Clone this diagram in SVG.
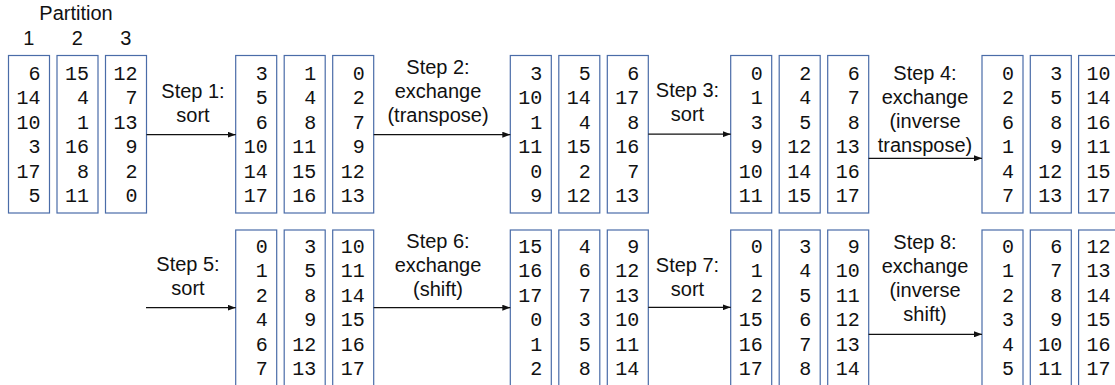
<svg xmlns="http://www.w3.org/2000/svg" width="1115" height="385" viewBox="0 0 1115 385">
  <style>
    .box { fill: #ffffff; stroke: #4a6ca8; stroke-width: 1.2; }
    .num { font-family: "Liberation Mono", "Courier New", monospace; font-size: 20px; fill: #111111; text-anchor: end; }
    .lbl { font-family: "Liberation Sans", Arial, Helvetica, sans-serif; font-size: 20px; fill: #111111; text-anchor: middle; }
    .edge { fill: none; stroke: #111111; stroke-width: 1.2; }
  </style>
  <defs>
    <marker id="arrow" viewBox="0 0 8 6" refX="8" refY="3" markerWidth="8" markerHeight="6" markerUnits="userSpaceOnUse" orient="auto">
      <path d="M0,0 L8,3 L0,6 Z" fill="#111111"/>
    </marker>
  </defs>
  <rect width="1115" height="385" fill="#ffffff"/>

  <!-- header -->
  <g id="header">
    <text class="lbl" x="76" y="20">Partition</text>
    <text class="lbl" x="28.8" y="45">1</text>
    <text class="lbl" x="77.3" y="45">2</text>
    <text class="lbl" x="125.8" y="45">3</text>
  </g>

  <!-- row 1: initial data -->
  <g id="initial">
    <rect class="box" x="8.5" y="55.5" width="41" height="157.5"/>
    <rect class="box" x="57" y="55.5" width="41" height="157.5"/>
    <rect class="box" x="105.5" y="55.5" width="41" height="157.5"/>
    <text class="num"><tspan x="40.5" y="80">6</tspan><tspan x="40.5" y="104.4">14</tspan><tspan x="40.5" y="128.8">10</tspan><tspan x="40.5" y="153.2">3</tspan><tspan x="40.5" y="177.6">17</tspan><tspan x="40.5" y="202">5</tspan></text>
    <text class="num"><tspan x="89" y="80">15</tspan><tspan x="89" y="104.4">4</tspan><tspan x="89" y="128.8">1</tspan><tspan x="89" y="153.2">16</tspan><tspan x="89" y="177.6">8</tspan><tspan x="89" y="202">11</tspan></text>
    <text class="num"><tspan x="137.5" y="80">12</tspan><tspan x="137.5" y="104.4">7</tspan><tspan x="137.5" y="128.8">13</tspan><tspan x="137.5" y="153.2">9</tspan><tspan x="137.5" y="177.6">2</tspan><tspan x="137.5" y="202">0</tspan></text>
  </g>

  <!-- row 1: after step 1 -->
  <g id="step1">
    <rect class="box" x="235.7" y="55.5" width="41" height="157.5"/>
    <rect class="box" x="284.2" y="55.5" width="41" height="157.5"/>
    <rect class="box" x="332.7" y="55.5" width="41" height="157.5"/>
    <text class="num"><tspan x="267.7" y="80">3</tspan><tspan x="267.7" y="104.4">5</tspan><tspan x="267.7" y="128.8">6</tspan><tspan x="267.7" y="153.2">10</tspan><tspan x="267.7" y="177.6">14</tspan><tspan x="267.7" y="202">17</tspan></text>
    <text class="num"><tspan x="316.2" y="80">1</tspan><tspan x="316.2" y="104.4">4</tspan><tspan x="316.2" y="128.8">8</tspan><tspan x="316.2" y="153.2">11</tspan><tspan x="316.2" y="177.6">15</tspan><tspan x="316.2" y="202">16</tspan></text>
    <text class="num"><tspan x="364.7" y="80">0</tspan><tspan x="364.7" y="104.4">2</tspan><tspan x="364.7" y="128.8">7</tspan><tspan x="364.7" y="153.2">9</tspan><tspan x="364.7" y="177.6">12</tspan><tspan x="364.7" y="202">13</tspan></text>
  </g>

  <!-- row 1: after step 2 -->
  <g id="step2">
    <rect class="box" x="510.3" y="55.5" width="41" height="157.5"/>
    <rect class="box" x="558.8" y="55.5" width="41" height="157.5"/>
    <rect class="box" x="607.3" y="55.5" width="41" height="157.5"/>
    <text class="num"><tspan x="542.3" y="80">3</tspan><tspan x="542.3" y="104.4">10</tspan><tspan x="542.3" y="128.8">1</tspan><tspan x="542.3" y="153.2">11</tspan><tspan x="542.3" y="177.6">0</tspan><tspan x="542.3" y="202">9</tspan></text>
    <text class="num"><tspan x="590.8" y="80">5</tspan><tspan x="590.8" y="104.4">14</tspan><tspan x="590.8" y="128.8">4</tspan><tspan x="590.8" y="153.2">15</tspan><tspan x="590.8" y="177.6">2</tspan><tspan x="590.8" y="202">12</tspan></text>
    <text class="num"><tspan x="639.3" y="80">6</tspan><tspan x="639.3" y="104.4">17</tspan><tspan x="639.3" y="128.8">8</tspan><tspan x="639.3" y="153.2">16</tspan><tspan x="639.3" y="177.6">7</tspan><tspan x="639.3" y="202">13</tspan></text>
  </g>

  <!-- row 1: after step 3 -->
  <g id="step3">
    <rect class="box" x="730.7" y="55.5" width="41" height="157.5"/>
    <rect class="box" x="779.2" y="55.5" width="41" height="157.5"/>
    <rect class="box" x="827.7" y="55.5" width="41" height="157.5"/>
    <text class="num"><tspan x="762.7" y="80">0</tspan><tspan x="762.7" y="104.4">1</tspan><tspan x="762.7" y="128.8">3</tspan><tspan x="762.7" y="153.2">9</tspan><tspan x="762.7" y="177.6">10</tspan><tspan x="762.7" y="202">11</tspan></text>
    <text class="num"><tspan x="811.2" y="80">2</tspan><tspan x="811.2" y="104.4">4</tspan><tspan x="811.2" y="128.8">5</tspan><tspan x="811.2" y="153.2">12</tspan><tspan x="811.2" y="177.6">14</tspan><tspan x="811.2" y="202">15</tspan></text>
    <text class="num"><tspan x="859.7" y="80">6</tspan><tspan x="859.7" y="104.4">7</tspan><tspan x="859.7" y="128.8">8</tspan><tspan x="859.7" y="153.2">13</tspan><tspan x="859.7" y="177.6">16</tspan><tspan x="859.7" y="202">17</tspan></text>
  </g>

  <!-- row 1: after step 4 -->
  <g id="step4">
    <rect class="box" x="982" y="55.5" width="41" height="157.5"/>
    <rect class="box" x="1030.3" y="55.5" width="41" height="157.5"/>
    <rect class="box" x="1078.6" y="55.5" width="41" height="157.5"/>
    <text class="num"><tspan x="1014" y="80">0</tspan><tspan x="1014" y="104.4">2</tspan><tspan x="1014" y="128.8">6</tspan><tspan x="1014" y="153.2">1</tspan><tspan x="1014" y="177.6">4</tspan><tspan x="1014" y="202">7</tspan></text>
    <text class="num"><tspan x="1062.3" y="80">3</tspan><tspan x="1062.3" y="104.4">5</tspan><tspan x="1062.3" y="128.8">8</tspan><tspan x="1062.3" y="153.2">9</tspan><tspan x="1062.3" y="177.6">12</tspan><tspan x="1062.3" y="202">13</tspan></text>
    <text class="num"><tspan x="1110.6" y="80">10</tspan><tspan x="1110.6" y="104.4">14</tspan><tspan x="1110.6" y="128.8">16</tspan><tspan x="1110.6" y="153.2">11</tspan><tspan x="1110.6" y="177.6">15</tspan><tspan x="1110.6" y="202">17</tspan></text>
  </g>

  <!-- row 2: after step 5 -->
  <g id="step5">
    <rect class="box" x="235.7" y="230" width="41" height="165"/>
    <rect class="box" x="284.2" y="230" width="41" height="165"/>
    <rect class="box" x="332.7" y="230" width="41" height="165"/>
    <text class="num"><tspan x="267.7" y="252.5">0</tspan><tspan x="267.7" y="277">1</tspan><tspan x="267.7" y="301.5">2</tspan><tspan x="267.7" y="326">4</tspan><tspan x="267.7" y="350.5">6</tspan><tspan x="267.7" y="375">7</tspan></text>
    <text class="num"><tspan x="316.2" y="252.5">3</tspan><tspan x="316.2" y="277">5</tspan><tspan x="316.2" y="301.5">8</tspan><tspan x="316.2" y="326">9</tspan><tspan x="316.2" y="350.5">12</tspan><tspan x="316.2" y="375">13</tspan></text>
    <text class="num"><tspan x="364.7" y="252.5">10</tspan><tspan x="364.7" y="277">11</tspan><tspan x="364.7" y="301.5">14</tspan><tspan x="364.7" y="326">15</tspan><tspan x="364.7" y="350.5">16</tspan><tspan x="364.7" y="375">17</tspan></text>
  </g>

  <!-- row 2: after step 6 -->
  <g id="step6">
    <rect class="box" x="510.3" y="230" width="41" height="165"/>
    <rect class="box" x="558.8" y="230" width="41" height="165"/>
    <rect class="box" x="607.3" y="230" width="41" height="165"/>
    <text class="num"><tspan x="542.3" y="252.5">15</tspan><tspan x="542.3" y="277">16</tspan><tspan x="542.3" y="301.5">17</tspan><tspan x="542.3" y="326">0</tspan><tspan x="542.3" y="350.5">1</tspan><tspan x="542.3" y="375">2</tspan></text>
    <text class="num"><tspan x="590.8" y="252.5">4</tspan><tspan x="590.8" y="277">6</tspan><tspan x="590.8" y="301.5">7</tspan><tspan x="590.8" y="326">3</tspan><tspan x="590.8" y="350.5">5</tspan><tspan x="590.8" y="375">8</tspan></text>
    <text class="num"><tspan x="639.3" y="252.5">9</tspan><tspan x="639.3" y="277">12</tspan><tspan x="639.3" y="301.5">13</tspan><tspan x="639.3" y="326">10</tspan><tspan x="639.3" y="350.5">11</tspan><tspan x="639.3" y="375">14</tspan></text>
  </g>

  <!-- row 2: after step 7 -->
  <g id="step7">
    <rect class="box" x="730.7" y="230" width="41" height="165"/>
    <rect class="box" x="779.2" y="230" width="41" height="165"/>
    <rect class="box" x="827.7" y="230" width="41" height="165"/>
    <text class="num"><tspan x="762.7" y="252.5">0</tspan><tspan x="762.7" y="277">1</tspan><tspan x="762.7" y="301.5">2</tspan><tspan x="762.7" y="326">15</tspan><tspan x="762.7" y="350.5">16</tspan><tspan x="762.7" y="375">17</tspan></text>
    <text class="num"><tspan x="811.2" y="252.5">3</tspan><tspan x="811.2" y="277">4</tspan><tspan x="811.2" y="301.5">5</tspan><tspan x="811.2" y="326">6</tspan><tspan x="811.2" y="350.5">7</tspan><tspan x="811.2" y="375">8</tspan></text>
    <text class="num"><tspan x="859.7" y="252.5">9</tspan><tspan x="859.7" y="277">10</tspan><tspan x="859.7" y="301.5">11</tspan><tspan x="859.7" y="326">12</tspan><tspan x="859.7" y="350.5">13</tspan><tspan x="859.7" y="375">14</tspan></text>
  </g>

  <!-- row 2: after step 8 -->
  <g id="step8">
    <rect class="box" x="982" y="230" width="41" height="165"/>
    <rect class="box" x="1030.3" y="230" width="41" height="165"/>
    <rect class="box" x="1078.6" y="230" width="41" height="165"/>
    <text class="num"><tspan x="1014" y="252.5">0</tspan><tspan x="1014" y="277">1</tspan><tspan x="1014" y="301.5">2</tspan><tspan x="1014" y="326">3</tspan><tspan x="1014" y="350.5">4</tspan><tspan x="1014" y="375">5</tspan></text>
    <text class="num"><tspan x="1062.3" y="252.5">6</tspan><tspan x="1062.3" y="277">7</tspan><tspan x="1062.3" y="301.5">8</tspan><tspan x="1062.3" y="326">9</tspan><tspan x="1062.3" y="350.5">10</tspan><tspan x="1062.3" y="375">11</tspan></text>
    <text class="num"><tspan x="1110.6" y="252.5">12</tspan><tspan x="1110.6" y="277">13</tspan><tspan x="1110.6" y="301.5">14</tspan><tspan x="1110.6" y="326">15</tspan><tspan x="1110.6" y="350.5">16</tspan><tspan x="1110.6" y="375">17</tspan></text>
  </g>

  <!-- connectors with step labels -->
  <g id="connectors">
    <path class="edge" d="M146.5,134.7 L235.7,134.7" marker-end="url(#arrow)"/>
    <path class="edge" d="M373.7,134.7 L510.3,134.7" marker-end="url(#arrow)"/>
    <path class="edge" d="M648.3,134.2 L730.7,134.2" marker-end="url(#arrow)"/>
    <path class="edge" d="M868.6,158.3 L982,158.3" marker-end="url(#arrow)"/>
    <path class="edge" d="M146,307.7 L235.7,307.7" marker-end="url(#arrow)"/>
    <path class="edge" d="M373.7,307.7 L510.3,307.7" marker-end="url(#arrow)"/>
    <path class="edge" d="M648.3,307.3 L730.7,307.3" marker-end="url(#arrow)"/>
    <path class="edge" d="M868.6,334.3 L982,334.3" marker-end="url(#arrow)"/>

    <text class="lbl"><tspan x="193" y="97.5">Step 1:</tspan><tspan x="193" y="121.5">sort</tspan></text>
    <text class="lbl"><tspan x="438" y="73.5">Step 2:</tspan><tspan x="438" y="97.5">exchange</tspan><tspan x="438" y="121.5">(transpose)</tspan></text>
    <text class="lbl"><tspan x="687.5" y="97">Step 3:</tspan><tspan x="687.5" y="121">sort</tspan></text>
    <text class="lbl"><tspan x="925" y="79.5">Step 4:</tspan><tspan x="925" y="103.8">exchange</tspan><tspan x="925" y="128.1">(inverse</tspan><tspan x="925" y="152.4">transpose)</tspan></text>
    <text class="lbl"><tspan x="188" y="270.5">Step 5:</tspan><tspan x="188" y="294.5">sort</tspan></text>
    <text class="lbl"><tspan x="438" y="247.5">Step 6:</tspan><tspan x="438" y="271.5">exchange</tspan><tspan x="438" y="295.5">(shift)</tspan></text>
    <text class="lbl"><tspan x="687.5" y="271.5">Step 7:</tspan><tspan x="687.5" y="295.5">sort</tspan></text>
    <text class="lbl"><tspan x="925" y="248.5">Step 8:</tspan><tspan x="925" y="272.5">exchange</tspan><tspan x="925" y="296.5">(inverse</tspan><tspan x="925" y="320.5">shift)</tspan></text>
  </g>
</svg>
